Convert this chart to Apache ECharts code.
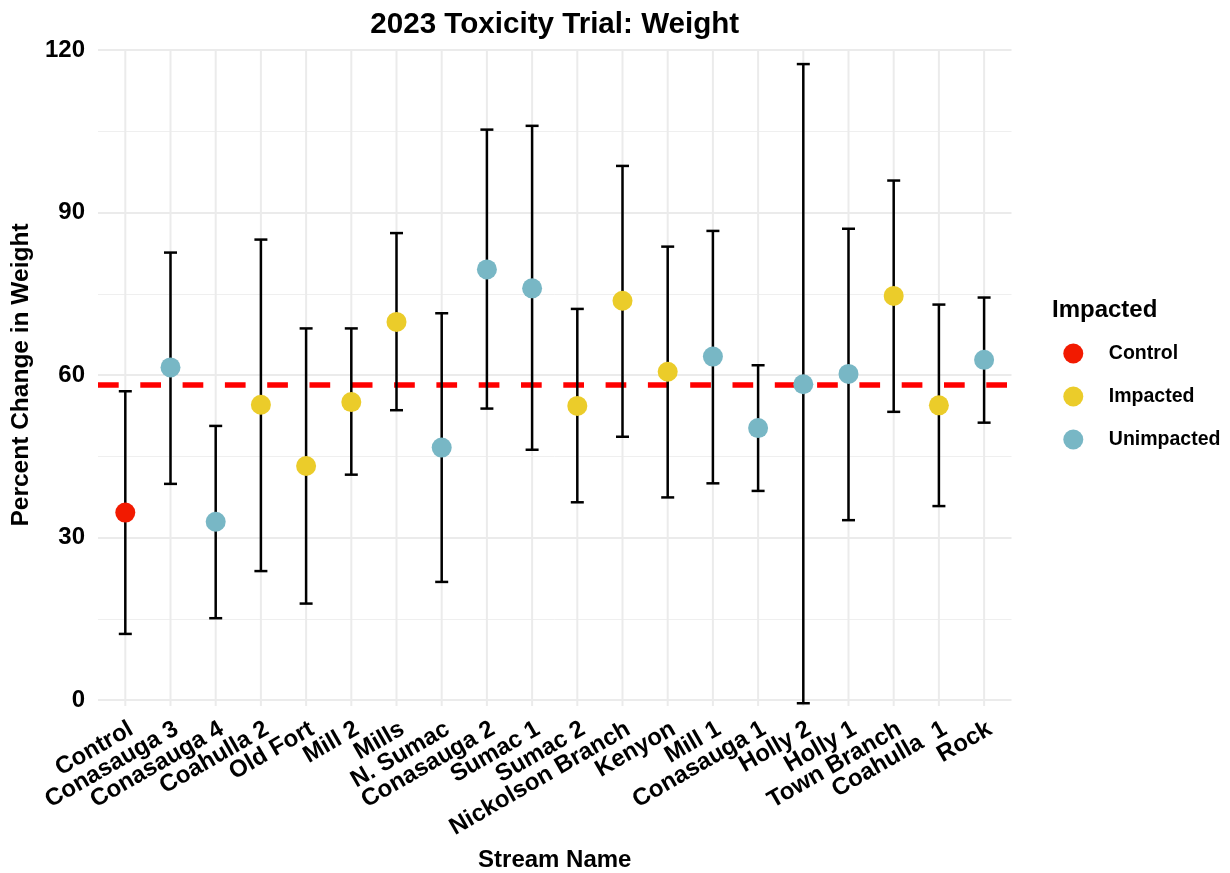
<!DOCTYPE html>
<html><head><meta charset="utf-8">
<script src="https://cdn.jsdelivr.net/npm/echarts@6/dist/echarts.min.js"></script>
<style>html,body{margin:0;padding:0;background:#fff}#c{width:1230px;height:873px}</style>
</head><body><div id="c"></div>
<script>
const categories = ['Control','Conasauga 3','Conasauga 4','Coahulla 2','Old Fort','Mill 2','Mills','N. Sumac','Conasauga 2','Sumac 1','Sumac 2','Nickolson Branch','Kenyon','Mill 1','Conasauga 1','Holly 2','Holly 1','Town Branch','Coahulla  1','Rock'];
const groups = ['Control','Unimpacted','Unimpacted','Impacted','Impacted','Impacted','Impacted','Unimpacted','Unimpacted','Unimpacted','Impacted','Impacted','Impacted','Unimpacted','Unimpacted','Unimpacted','Unimpacted','Impacted','Impacted','Unimpacted'];
const meanChange = [34.6,61.4,32.9,54.5,43.2,55.0,69.8,46.6,79.5,76.0,54.3,73.7,60.6,63.4,50.2,58.3,60.2,74.6,54.4,62.8];
const lowerCI = [12.2,39.9,15.1,23.8,17.8,41.6,53.5,21.8,53.8,46.2,36.5,48.6,37.4,40.0,38.6,-0.6,33.2,53.2,35.8,51.2];
const upperCI = [57.0,82.6,50.6,85.0,68.6,68.6,86.2,71.4,105.3,106.0,72.2,98.6,83.7,86.6,61.8,117.4,87.0,95.9,73.0,74.3];
const groupNames = ['Control','Impacted','Unimpacted'];
const groupColors = ['#F21A00','#EBCC2A','#78B7C5'];
const referenceLine = 58.2;
const yTicks = [0,30,60,90,120];

const FONT = "'Liberation Sans', Arial, Helvetica, sans-serif";
const yMin = yTicks[0], yMax = yTicks[yTicks.length-1], yStep = yTicks[1]-yTicks[0];
const chart = echarts.init(document.getElementById('c'), null, {renderer:'canvas'});

const bandW = 45.2;
const firstCenter = 125.3;
const g1Left = firstCenter - bandW/2;
const g1Width = bandW*categories.length;

const scatterSeries = groupNames.map((g, gi) => ({
  name: g, type: 'scatter', xAxisIndex: 1, yAxisIndex: 1, z: 10,
  symbol: 'circle', symbolSize: 20,
  itemStyle: {color: groupColors[gi], opacity: 1},
  emphasis: {disabled: true},
  data: categories.map((c, i) => groups[i] === g ? [i, meanChange[i]] : null).filter(d => d)
}));

const option = {
  animation: false,
  backgroundColor: '#ffffff',
  textStyle: {fontFamily: FONT},
  title: [
    {text: '2023 Toxicity Trial: Weight', left: 554.75, textAlign: 'center', top: 10, padding: 0,
     textStyle: {fontSize: 29.6, fontWeight: 'bold', color: '#000', fontFamily: FONT}},
    {text: 'Impacted', left: 1052, top: 298, padding: 0,
     textStyle: {fontSize: 24, fontWeight: 'bold', color: '#000', fontFamily: FONT}}
  ],
  legend: {
    data: groupNames, orient: 'vertical', left: 1063.3, top: 343.5, padding: 0,
    itemWidth: 61, itemHeight: 20, itemGap: 23, icon: 'circle', selectedMode: false,
    textStyle: {fontSize: 19.5, fontWeight: 'bold', color: '#000', fontFamily: FONT}
  },
  grid: [
    {left: 98, width: 913.5, top: 50, height: 650, outerBoundsMode: 'none', containLabel: false},
    {left: g1Left, width: g1Width, top: 50, height: 650, outerBoundsMode: 'none', containLabel: false}
  ],
  xAxis: [
    {gridIndex: 0, type: 'value', min: 0, max: 1, show: true,
     axisLine: {show: false}, axisTick: {show: false}, axisLabel: {show: false}, splitLine: {show: false},
     name: 'Stream Name', nameLocation: 'middle', nameGap: 148,
     nameTextStyle: {fontSize: 24, fontWeight: 'bold', color: '#000', fontFamily: FONT}},
    {gridIndex: 1, type: 'category', data: categories, boundaryGap: true,
     axisLine: {show: false}, axisTick: {show: false}, splitLine: {show: false},
     axisLabel: {interval: 0, rotate: 30, align: 'right', verticalAlign: 'top', margin: 17,
       fontSize: 24, fontWeight: 'bold', color: '#000', fontFamily: FONT, hideOverlap: false}}
  ],
  yAxis: [
    {gridIndex: 0, type: 'value', min: yMin, max: yMax, interval: yStep,
     axisLine: {show: false}, axisTick: {show: false},
     axisLabel: {margin: 13, fontSize: 24, fontWeight: 'bold', color: '#000', fontFamily: FONT},
     splitLine: {show: true, lineStyle: {color: '#EBEBEB', width: 2}},
     minorTick: {show: false, splitNumber: 2},
     minorSplitLine: {show: true, lineStyle: {color: '#EFEFEF', width: 1}},
     name: 'Percent Change in Weight', nameLocation: 'middle', nameGap: 56, nameRotate: 90,
     nameTextStyle: {fontSize: 24.5, fontWeight: 'bold', color: '#000', fontFamily: FONT}},
    {gridIndex: 1, type: 'value', min: yMin, max: yMax, interval: yStep, show: false}
  ],
  series: [
    {
      name: 'vgrid', type: 'custom', xAxisIndex: 1, yAxisIndex: 1, z: 0, silent: true,
      data: categories.map((c, i) => [i, yMin]),
      encode: {x: 0, y: 1},
      renderItem: function (params, api) {
        const top = api.coord([api.value(0), yMax]);
        const bot = api.coord([api.value(0), yMin]);
        return {type: 'line', shape: {x1: top[0], y1: top[1], x2: bot[0], y2: bot[1] + 6},
          style: {stroke: '#EBEBEB', lineWidth: 2}};
      }
    },
    {
      name: 'ref', type: 'line', xAxisIndex: 0, yAxisIndex: 0, data: [], silent: true,
      markLine: {
        silent: true, z: 6, symbol: ['none', 'none'], label: {show: false}, animation: false,
        lineStyle: {color: '#FF0000', width: 5.5, type: [20.7, 21.6], cap: 'butt', opacity: 1},
        emphasis: {disabled: true},
        data: [{yAxis: referenceLine}]
      }
    },
    {
      name: 'errorbars', type: 'custom', xAxisIndex: 1, yAxisIndex: 1, z: 8, silent: true,
      data: categories.map((c, i) => [i, lowerCI[i], upperCI[i]]),
      encode: {x: 0, y: [1, 2]},
      renderItem: function (params, api) {
        const x = api.value(0);
        const lo = api.coord([x, api.value(1)]);
        const hi = api.coord([x, api.value(2)]);
        const hw = 6.5;
        const style = {stroke: '#000', lineWidth: 2.5, lineCap: 'butt'};
        return {type: 'group', children: [
          {type: 'line', shape: {x1: lo[0], y1: lo[1], x2: hi[0], y2: hi[1]}, style: style},
          {type: 'line', shape: {x1: lo[0]-hw, y1: lo[1], x2: lo[0]+hw, y2: lo[1]}, style: style},
          {type: 'line', shape: {x1: hi[0]-hw, y1: hi[1], x2: hi[0]+hw, y2: hi[1]}, style: style}
        ]};
      }
    }
  ].concat(scatterSeries)
};
chart.setOption(option);
</script></body></html>
